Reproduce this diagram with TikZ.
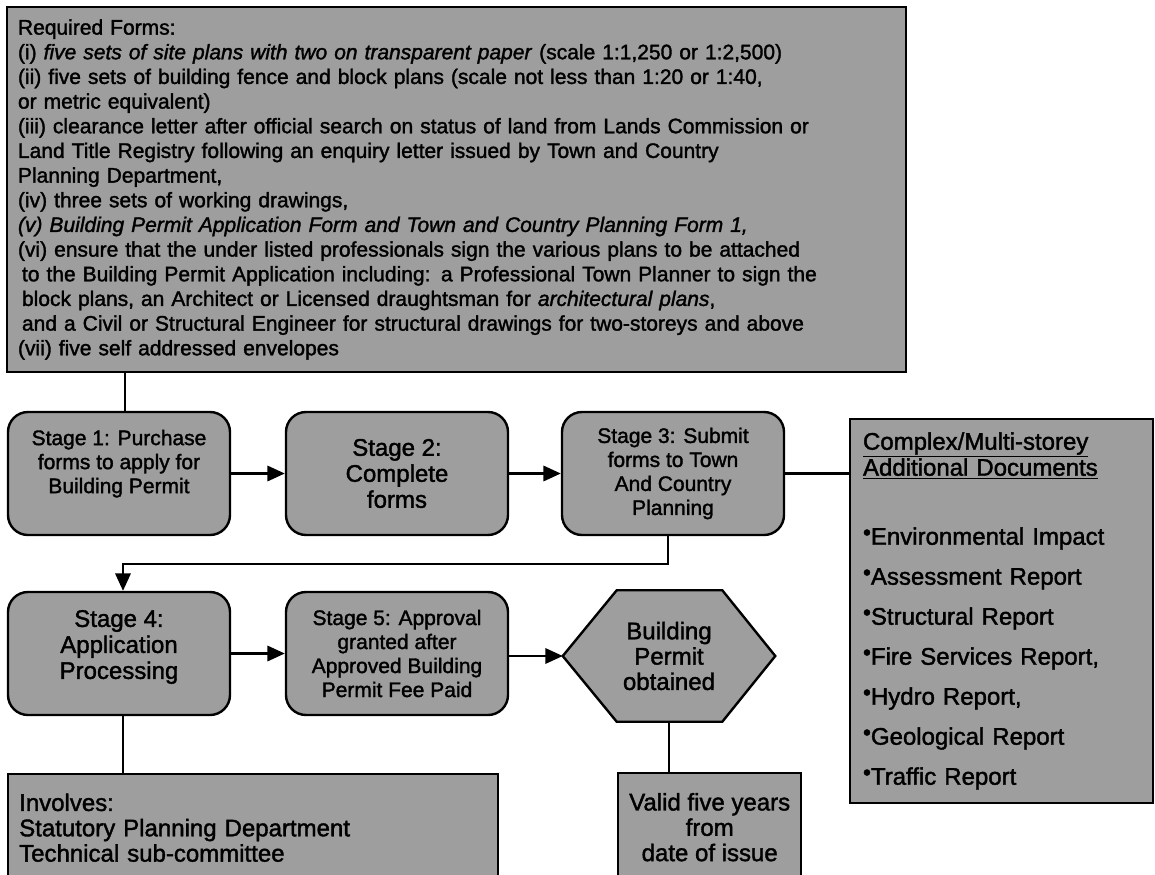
\documentclass[tikz,border=0pt]{standalone}
\usepackage{fontspec}
\setmainfont{Liberation Sans}[FakeBold=1.6]
\usetikzlibrary{arrows.meta,backgrounds}
\definecolor{boxgray}{gray}{0.62}
\newcommand\szTop{\fontsize{15.75pt}{18.5pt}\selectfont}
\newcommand\szS{\fontsize{15.75pt}{18pt}\selectfont}
\newcommand\szL{\fontsize{18pt}{19.5pt}\selectfont}
\newcommand\szI{\fontsize{18pt}{19pt}\selectfont}
\newcommand\bul{\raisebox{3.5pt}{\fontsize{17pt}{17pt}\selectfont •}}
\begin{document}
\begin{tikzpicture}[x=0.75pt,y=-0.75pt,
  box/.style={draw=black, line width=1.8pt, fill=boxgray, inner sep=0pt},
  stagebox/.style={box, rounded corners=15pt, minimum width=166.5pt, minimum height=92.25pt, align=center},
  conn/.style={line width=1.6pt},
  arr/.style={conn, -{Triangle[length=13pt,width=11.5pt]}}]
\useasboundingbox (0,0) rectangle (1155,874);
\clip (0,0) rectangle (1155,874);

\node[box, minimum width=674.25pt, minimum height=273.75pt, text width=657.75pt, align=left, font=\szTop] (top) at (456.5,189.5)
{Required Forms:\\
(i) \textit{five sets of site plans with two on transparent paper} (scale 1:1,250 or 1:2,500)\\
(ii) five sets of building fence and block plans (scale not less than 1:20 or 1:40,\\
or metric equivalent)\\
(iii) clearance letter after official search on status of land from Lands Commission or\\
Land Title Registry following an enquiry letter issued by Town and Country\\
Planning Department,\\
(iv) three sets of working drawings,\\
\textit{(v) Building Permit Application Form and Town and Country Planning Form 1,}\\
(vi) ensure that the under listed professionals sign the various plans to be attached\\
\hspace*{3pt}to the Building Permit Application including: a Professional Town Planner to sign the\\
\hspace*{3pt}block plans, an Architect or Licensed draughtsman for \textit{architectural plans},\\
\hspace*{3pt}and a Civil or Structural Engineer for structural drawings for two-storeys and above\\
(vii) five self addressed envelopes};

\node[stagebox, font=\szS] (s1) at (119,473.5) {Stage 1: Purchase\\forms to apply for\\Building Permit\\\mbox{}};
\node[stagebox, font=\szL] (s2) at (397,473.5) {Stage 2:\\Complete\\forms};
\node[stagebox, font=\szS] (s3) at (673,473.5) {Stage 3: Submit\\forms to Town\\And Country\\Planning};
\node[stagebox, font=\szL] (s4) at (119,653.5) {Stage 4:\\Application\\Processing\\[-6pt]\mbox{}};
\node[stagebox, font=\szS] (s5) at (397,653.5) {Stage 5: Approval\\granted after\\Approved Building\\Permit Fee Paid};

\node[box, minimum width=227.25pt, minimum height=288pt, text width=207.75pt, align=left, font=\szL] (cx) at (1001.5,611)
{\underline{Complex/Multi-storey}\\
\underline{Additional Documents}\\[32.25pt]
\bul Environmental Impact\\[10.5pt]
\bul Assessment Report\\[10.5pt]
\bul Structural Report\\[10.5pt]
\bul Fire Services Report,\\[10.5pt]
\bul Hydro Report,\\[10.5pt]
\bul Geological Report\\[10.5pt]
\bul Traffic Report};

\node[font=\szI, align=center, minimum width=159pt, minimum height=98.25pt, inner sep=0pt] (hex) at (669,656) {Building\\Permit\\obtained};
\begin{scope}[on background layer]
\draw[line width=1.8pt, fill=boxgray, line join=miter] (hex.west) -- ([xshift=40.5pt]hex.north west) -- ([xshift=-39.75pt]hex.north east) -- (hex.east) -- ([xshift=-39.75pt]hex.south east) -- ([xshift=40.5pt]hex.south west) -- cycle;
\end{scope}

\node[box, anchor=north west, minimum width=367.5pt, minimum height=80.25pt, text width=351pt, align=left, font=\szI] (inv) at (7,773)
{Involves:\\Statutory Planning Department\\Technical sub-committee};

\node[box, anchor=north west, minimum width=137.25pt, minimum height=81pt, align=center, font=\szI] (val) at (617,772)
{Valid five years\\from\\date of issue};

\coordinate (kink) at (0,564);
\coordinate (s1n) at ([xshift=4.5pt]s1.north);
\coordinate (s3s) at ([xshift=-3.75pt]s3.south);
\coordinate (s4n) at ([xshift=3pt]s4.north);
\coordinate (s4s) at ([xshift=3pt]s4.south);
\draw[conn] (top.south -| s1n) -- (s1n);
\draw[arr] (s1) -- (s2);
\draw[arr] (s2) -- (s3);
\draw[conn] (s3.east) -- (s3.east -| cx.west);
\draw[arr] (s3s) |- (kink -| s4n) -- (s4n);
\draw[arr] (s4) -- (s5);
\draw[arr] (s5.east |- hex.west) -- (hex.west);
\draw[conn] (s4s) -- (inv.north -| s4s);
\draw[conn] (hex.south) -- (val.north -| hex.south);
\end{tikzpicture}
\end{document}
